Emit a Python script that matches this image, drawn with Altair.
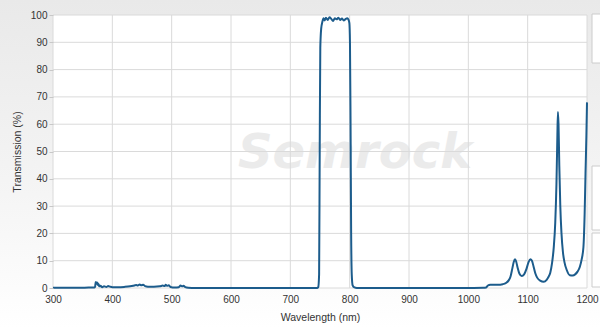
import altair as alt
import pandas as pd

# Transmission spectrum (wavelength nm, transmission %)
wavelength = [
    300, 330, 360, 370, 371, 372, 373, 374, 375, 376, 377, 378, 380, 383, 386, 390, 393, 396,
    400, 410, 420, 430, 435, 440, 443, 446, 449, 452, 455, 460, 470, 480, 485, 488, 490, 492,
    495, 498, 505, 512, 515, 518, 520, 523, 528, 540, 600, 700, 745,
    747, 748.5, 749.5, 750.5, 752, 754, 756, 758, 760, 763, 766, 769, 772, 775, 778, 781, 784,
    787, 790, 793, 796, 798, 799.5, 800.5, 801.5, 802.5, 803.5, 805, 808, 812,
    900, 1000, 1025, 1030, 1033, 1037, 1050, 1058, 1060, 1064, 1068, 1071, 1074, 1076.5, 1078.7,
    1080.5, 1083, 1086, 1090, 1094, 1098, 1101.5, 1105, 1107.5, 1110, 1113, 1116, 1121, 1127,
    1132, 1135, 1138, 1141, 1144, 1146.5, 1148.5, 1150, 1151, 1152, 1153.3, 1155, 1157, 1159.5,
    1162, 1166, 1171, 1176, 1180, 1184, 1188, 1191, 1194, 1196, 1197.5, 1199, 1200,
]
transmission = [
    0.1, 0.1, 0.15, 0.2, 0.5, 2.2, 1.5, 2.0, 1.8, 1.0, 1.4, 0.6, 0.8, 0.3, 0.6, 0.4, 0.7, 0.5,
    0.3, 0.3, 0.4, 0.6, 0.8, 1.1, 0.9, 1.3, 1.0, 1.2, 0.7, 0.5, 0.5, 0.6, 0.9, 0.7, 1.2, 0.8,
    1.0, 0.4, 0.2, 0.3, 0.9, 0.6, 0.8, 0.3, 0.1, 0.0, 0.0, 0.0, 0.0,
    0.3, 5, 50, 88, 95, 97.5, 98.8, 98.0, 99.0, 98.2, 99.2, 98.6, 97.8, 98.8, 98.4, 99.0, 98.2,
    98.7, 98.0, 98.5, 98.8, 98.3, 97.0, 90, 60, 20, 5, 1, 0.2, 0.0,
    0.0, 0.0, 0.05, 0.2, 0.9, 1.2, 1.2, 1.4, 1.5, 1.9, 2.8, 4.1, 7.0, 9.5, 10.5,
    9.8, 7.5, 5.3, 4.4, 5.0, 7.0, 9.5, 10.5, 9.8, 7.8, 5.3, 3.8, 2.7, 2.3,
    3.0, 4.0, 5.5, 9.0, 15, 24, 38, 55, 64.5, 60, 45, 30, 20, 13,
    9.5, 6.5, 4.7, 4.6, 5.0, 6.0, 7.8, 10.5, 15, 27, 42, 56, 68,
]
x_ticks = [300, 400, 500, 600, 700, 800, 900, 1000, 1100, 1200]
y_ticks = [0, 10, 20, 30, 40, 50, 60, 70, 80, 90, 100]

spec = pd.DataFrame({"wl": wavelength, "t": transmission})
xt = pd.DataFrame({"wl": x_ticks})
yt = pd.DataFrame({"t": y_ticks})
one = pd.DataFrame({"k": [0]})

W, H = 534, 273
xscale = alt.Scale(domain=[300, 1200], nice=False, zero=False)
yscale = alt.Scale(domain=[0, 100], nice=False)

xaxis = alt.Axis(title="Wavelength (nm)", values=x_ticks, format="d", grid=False, domain=False,
                 ticks=False, tickSize=0, labelPadding=6, titlePadding=8, zindex=1,
                 labelFlush=False, labelOverlap=False)
yaxis = alt.Axis(title="Transmission (%)", values=y_ticks, format="d", grid=False, domain=False,
                 ticks=True, tickSize=4, tickColor="#c8c8c8", labelPadding=2,
                 titlePadding=8, zindex=1, labelFlush=False, labelOverlap=False)

bg = alt.Chart(one).mark_rect(
    fill=alt.Gradient(
        gradient="linear",
        stops=[alt.GradientStop(color="#e9e9e9", offset=0),
               alt.GradientStop(color="#f4f4f4", offset=0.55),
               alt.GradientStop(color="#ffffff", offset=1)],
        x1=0, x2=0, y1=0, y2=1,
    )
).encode(x=alt.value(-53), x2=alt.value(W + 13), y=alt.value(-15), y2=alt.value(H + 40))

plotbg = alt.Chart(one).mark_rect(fill="white").encode(
    x=alt.value(0), x2=alt.value(W), y=alt.value(0), y2=alt.value(H)
)

watermark = alt.Chart(one).mark_text(
    text="Semrock", font="DejaVu Sans", fontSize=48, fontWeight="bold", fontStyle="italic",
    color="#ebebeb", align="center", baseline="alphabetic",
).encode(x=alt.value(302), y=alt.value(153))

vgrid = alt.Chart(xt).mark_rule(color="#dadada", strokeWidth=1).encode(
    x=alt.X("wl:Q", scale=xscale, axis=xaxis), y=alt.value(0), y2=alt.value(H)
)
hgrid = alt.Chart(yt).mark_rule(color="#dadada", strokeWidth=1).encode(
    y=alt.Y("t:Q", scale=yscale, axis=yaxis), x=alt.value(0), x2=alt.value(W)
)

line = alt.Chart(spec).mark_line(color="#1c5c8c", strokeWidth=2, interpolate="monotone").encode(
    x=alt.X("wl:Q", scale=xscale, axis=xaxis),
    y=alt.Y("t:Q", scale=yscale, axis=yaxis),
)

boxes = pd.DataFrame({"y0": [-1, 151, 218], "y1": [48, 215, 272]})
side = alt.Chart(boxes).mark_rect(fill="white", stroke="#cccccc", strokeWidth=1).encode(
    x=alt.value(539), x2=alt.value(W + 20),
    y=alt.Y("y0:Q", scale=None), y2="y1:Q",
)

chart = alt.layer(bg, plotbg, watermark, vgrid, hgrid, line, side).properties(
    width=W, height=H, autosize="none",
    padding={"left": 53, "top": 15, "right": 13, "bottom": 40},
).configure_axis(
    labelFont="Liberation Sans", labelFontSize=10, labelColor="#333333",
    titleFont="Liberation Sans", titleFontSize=10.5, titleColor="#333333", titleFontWeight="normal",
).configure_view(strokeWidth=0)

chart.save("out.html", embed_options={"renderer": "svg", "actions": False})
